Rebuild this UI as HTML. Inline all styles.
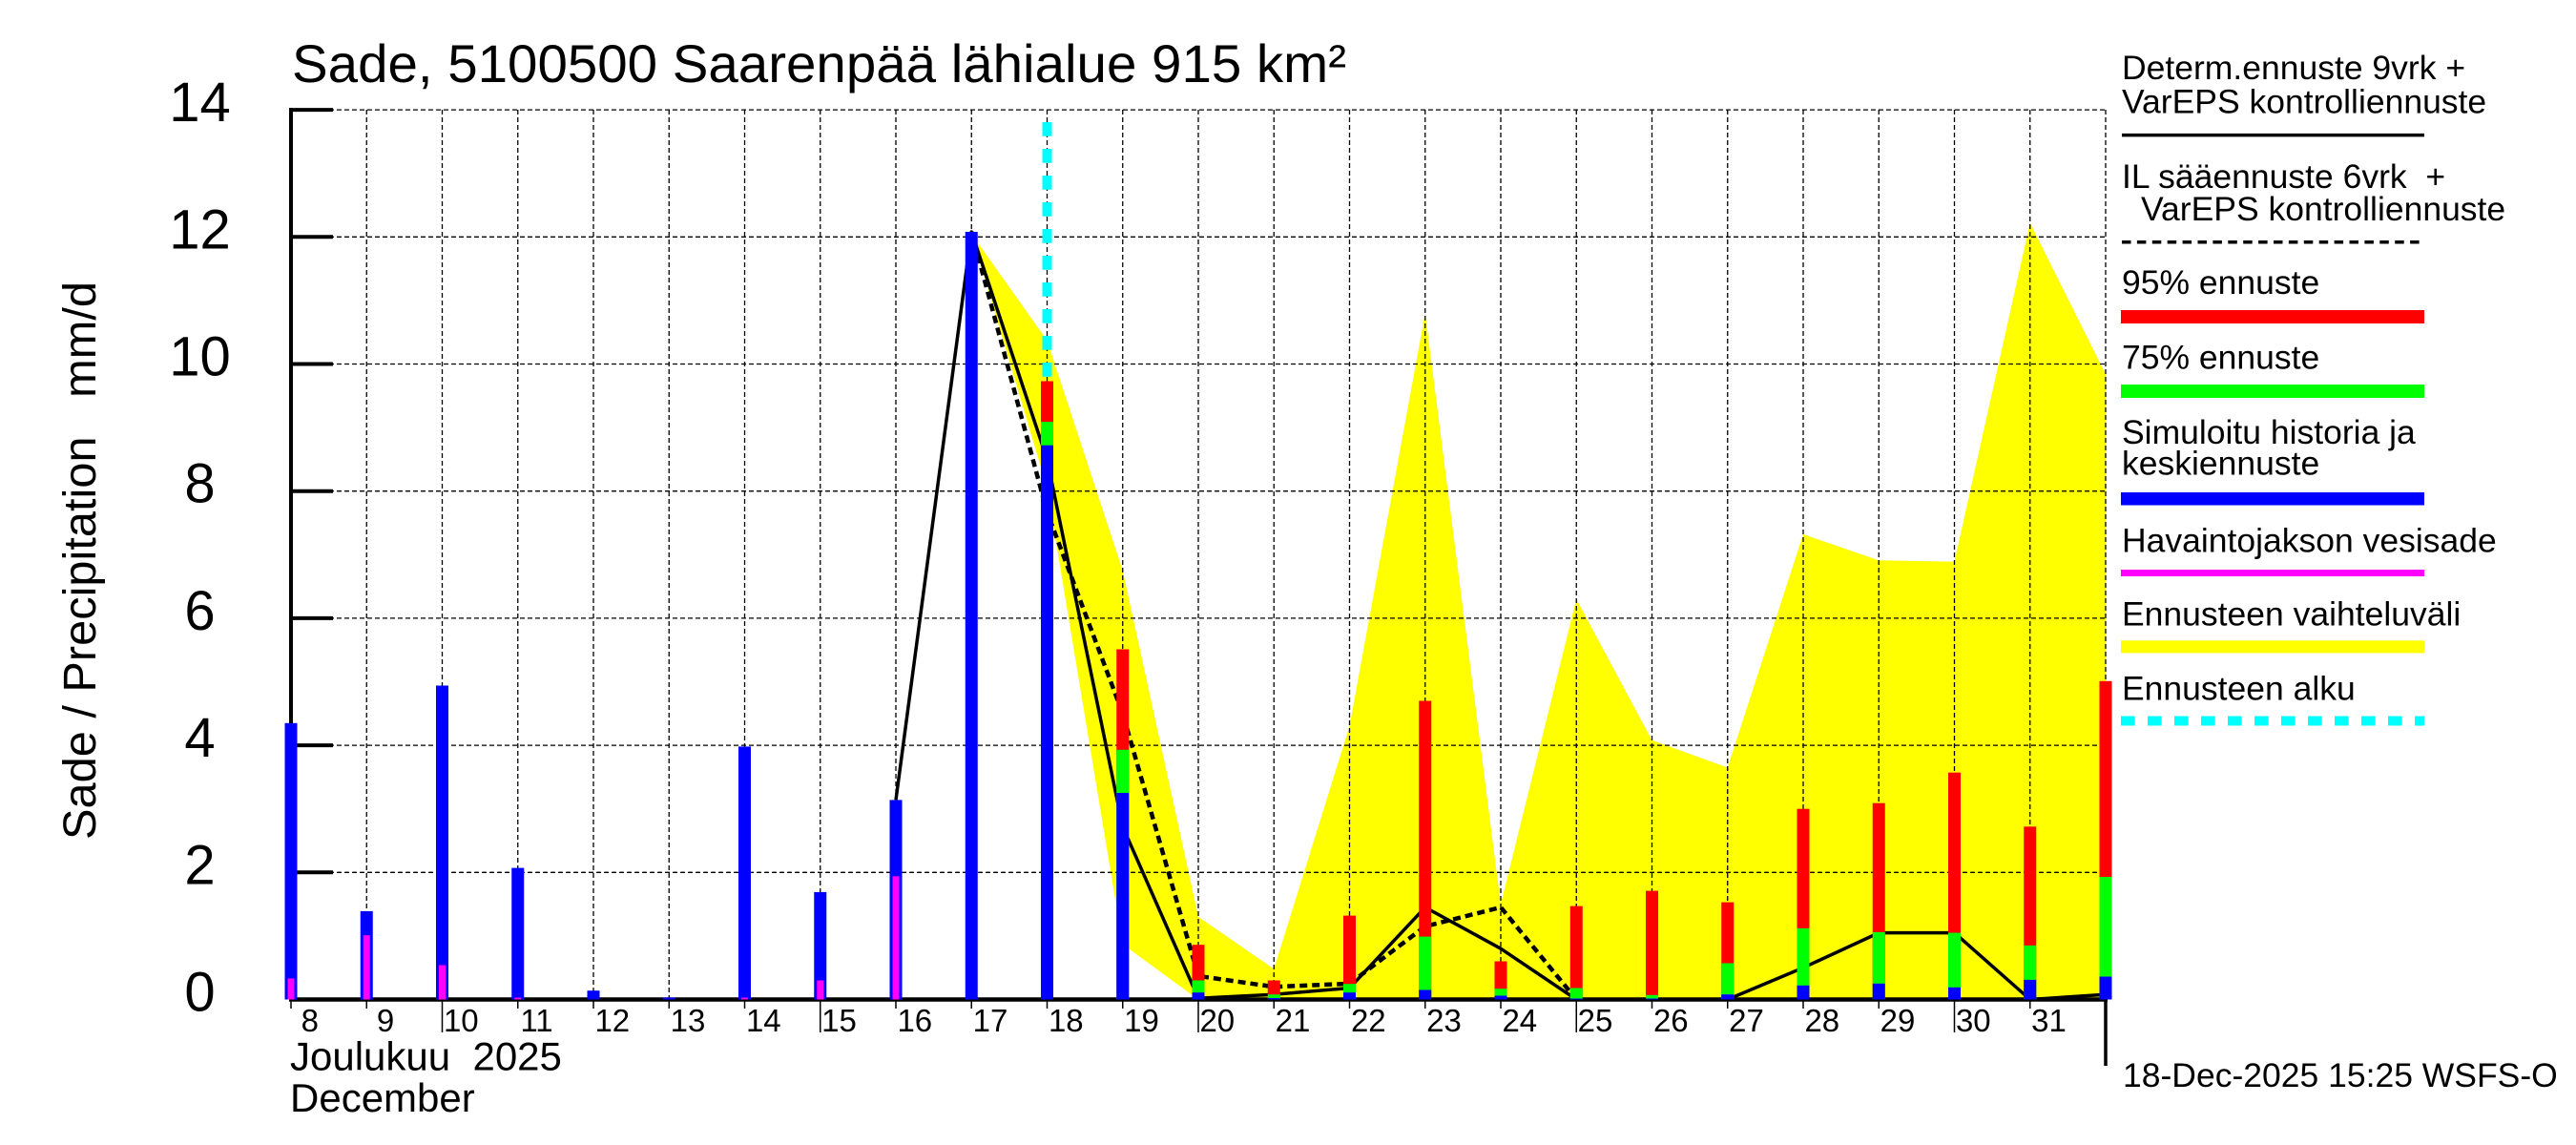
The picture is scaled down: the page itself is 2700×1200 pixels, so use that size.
<!DOCTYPE html>
<html><head><meta charset="utf-8"><style>
html,body{margin:0;padding:0;background:#fff;}
svg{display:block;}
text{font-family:"Liberation Sans",Arial,Helvetica,sans-serif;fill:#000;}
</style></head><body>
<svg width="2700" height="1200" viewBox="0 0 2700 1200" xmlns="http://www.w3.org/2000/svg">
<rect x="0" y="0" width="2700" height="1200" fill="#fff"/>

<!-- yellow forecast range -->
<polygon fill="#ffff00" points="1018.25,245 1097.5,356.9 1176.75,597.9 1256,960.9 1335.25,1015.5 1414.5,761.1 1493.75,328.2 1573,947.6 1652.25,627.9 1731.5,775.8 1810.75,804.4 1890,560 1969.25,587.3 2048.5,588.6 2127.75,233.6 2207,392.2 2207,1047.5 1256,1047.5 1176.75,989.6 1097.5,511.4"/>

<!-- grid -->
<g stroke="#000" stroke-width="1.3" stroke-dasharray="5 3" fill="none">
<line x1="305" y1="115.1" x2="2207" y2="115.1"/>
<line x1="305" y1="248.3" x2="2207" y2="248.3"/>
<line x1="305" y1="381.5" x2="2207" y2="381.5"/>
<line x1="305" y1="514.7" x2="2207" y2="514.7"/>
<line x1="305" y1="647.9" x2="2207" y2="647.9"/>
<line x1="305" y1="781.1" x2="2207" y2="781.1"/>
<line x1="305" y1="914.3" x2="2207" y2="914.3"/>
<line x1="384.25" y1="115" x2="384.25" y2="1047"/>
<line x1="463.5" y1="115" x2="463.5" y2="1047"/>
<line x1="542.75" y1="115" x2="542.75" y2="1047"/>
<line x1="622" y1="115" x2="622" y2="1047"/>
<line x1="701.25" y1="115" x2="701.25" y2="1047"/>
<line x1="780.5" y1="115" x2="780.5" y2="1047"/>
<line x1="859.75" y1="115" x2="859.75" y2="1047"/>
<line x1="939" y1="115" x2="939" y2="1047"/>
<line x1="1018.25" y1="115" x2="1018.25" y2="1047"/>
<line x1="1097.5" y1="115" x2="1097.5" y2="1047"/>
<line x1="1176.75" y1="115" x2="1176.75" y2="1047"/>
<line x1="1256" y1="115" x2="1256" y2="1047"/>
<line x1="1335.25" y1="115" x2="1335.25" y2="1047"/>
<line x1="1414.5" y1="115" x2="1414.5" y2="1047"/>
<line x1="1493.75" y1="115" x2="1493.75" y2="1047"/>
<line x1="1573" y1="115" x2="1573" y2="1047"/>
<line x1="1652.25" y1="115" x2="1652.25" y2="1047"/>
<line x1="1731.5" y1="115" x2="1731.5" y2="1047"/>
<line x1="1810.75" y1="115" x2="1810.75" y2="1047"/>
<line x1="1890" y1="115" x2="1890" y2="1047"/>
<line x1="1969.25" y1="115" x2="1969.25" y2="1047"/>
<line x1="2048.5" y1="115" x2="2048.5" y2="1047"/>
<line x1="2127.75" y1="115" x2="2127.75" y2="1047"/>
<line x1="2207" y1="115" x2="2207" y2="1047"/>
</g>

<!-- axes -->
<g stroke="#000" fill="none">
<line x1="305" y1="113" x2="305" y2="1049.5" stroke-width="4"/>
<line x1="303" y1="1047.5" x2="2209" y2="1047.5" stroke-width="4.5"/>
<g stroke-width="4">
<line x1="305" y1="115.1" x2="349" y2="115.1"/>
<line x1="305" y1="248.3" x2="349" y2="248.3"/>
<line x1="305" y1="381.5" x2="349" y2="381.5"/>
<line x1="305" y1="514.7" x2="349" y2="514.7"/>
<line x1="305" y1="647.9" x2="349" y2="647.9"/>
<line x1="305" y1="781.1" x2="349" y2="781.1"/>
<line x1="305" y1="914.3" x2="349" y2="914.3"/>
</g>
<g stroke-width="1.5">
<line x1="305" y1="1047" x2="305" y2="1057"/>
<line x1="384.25" y1="1047" x2="384.25" y2="1057"/>
<line x1="463.5" y1="1047" x2="463.5" y2="1082"/>
<line x1="542.75" y1="1047" x2="542.75" y2="1057"/>
<line x1="622" y1="1047" x2="622" y2="1057"/>
<line x1="701.25" y1="1047" x2="701.25" y2="1057"/>
<line x1="780.5" y1="1047" x2="780.5" y2="1057"/>
<line x1="859.75" y1="1047" x2="859.75" y2="1082"/>
<line x1="939" y1="1047" x2="939" y2="1057"/>
<line x1="1018.25" y1="1047" x2="1018.25" y2="1057"/>
<line x1="1097.5" y1="1047" x2="1097.5" y2="1057"/>
<line x1="1176.75" y1="1047" x2="1176.75" y2="1057"/>
<line x1="1256" y1="1047" x2="1256" y2="1082"/>
<line x1="1335.25" y1="1047" x2="1335.25" y2="1057"/>
<line x1="1414.5" y1="1047" x2="1414.5" y2="1057"/>
<line x1="1493.75" y1="1047" x2="1493.75" y2="1057"/>
<line x1="1573" y1="1047" x2="1573" y2="1057"/>
<line x1="1652.25" y1="1047" x2="1652.25" y2="1082"/>
<line x1="1731.5" y1="1047" x2="1731.5" y2="1057"/>
<line x1="1810.75" y1="1047" x2="1810.75" y2="1057"/>
<line x1="1890" y1="1047" x2="1890" y2="1057"/>
<line x1="1969.25" y1="1047" x2="1969.25" y2="1057"/>
<line x1="2048.5" y1="1047" x2="2048.5" y2="1082"/>
<line x1="2127.75" y1="1047" x2="2127.75" y2="1057"/>
</g>
<line x1="2207" y1="1046" x2="2207" y2="1117" stroke-width="3.5"/>
</g>

<!-- lines -->
<polyline fill="none" stroke="#000" stroke-width="3.5" stroke-linejoin="round" points="939,838.4 1018.25,243 1097.5,481.4 1176.75,866.4 1256,1046.2 1335.25,1042.2 1414.5,1035.5 1493.75,950.9 1573,994.2 1652.25,1047.5 1731.5,1047.5 1810.75,1047.5 1890,1014.2 1969.25,977.6 2048.5,977.6 2127.75,1047.5 2207,1042.2"/>
<polyline fill="none" stroke="#000" stroke-width="4.5" stroke-dasharray="8 5" points="1018.25,243 1097.5,536.7 1176.75,747.8 1256,1022.9 1335.25,1034.2 1414.5,1030.9 1493.75,970.9 1573,950.9 1652.25,1047.5"/>

<!-- history bars -->
<g fill="#0000ff">
<rect x="298.5" y="757.8" width="13" height="289.7"/>
<rect x="377.75" y="954.9" width="13" height="92.6"/>
<rect x="457" y="718.5" width="13" height="329"/>
<rect x="536.25" y="909.6" width="13" height="137.9"/>
<rect x="615.5" y="1038.2" width="13" height="9.3"/>
<rect x="694.75" y="1045.5" width="13" height="2"/>
<rect x="774" y="782.4" width="13" height="265.1"/>
<rect x="853.25" y="934.9" width="13" height="112.6"/>
<rect x="932.5" y="838.4" width="13" height="209.1"/>
<rect x="1011.75" y="243" width="13" height="804.5"/>
</g>
<g fill="#ff00ff">
<rect x="301.5" y="1025.5" width="7" height="22"/>
<rect x="380.75" y="980.2" width="7" height="67.3"/>
<rect x="460" y="1011.5" width="7" height="36"/>
<rect x="539.25" y="1045.5" width="7" height="2"/>
<rect x="777" y="1045.5" width="7" height="2"/>
<rect x="856.25" y="1027.5" width="7" height="20"/>
<rect x="935.5" y="918.3" width="7" height="129.2"/>
</g>

<!-- forecast bars -->
<g fill="#ff0000">
<rect x="1091" y="399.5" width="13" height="648"/>
<rect x="1170.25" y="680.5" width="13" height="367"/>
<rect x="1249.5" y="990.2" width="13" height="57.3"/>
<rect x="1328.75" y="1027.5" width="13" height="20"/>
<rect x="1408" y="959.6" width="13" height="87.9"/>
<rect x="1487.25" y="734.5" width="13" height="313"/>
<rect x="1566.5" y="1007.5" width="13" height="40"/>
<rect x="1645.75" y="949.6" width="13" height="97.9"/>
<rect x="1725" y="933.6" width="13" height="113.9"/>
<rect x="1804.25" y="945.6" width="13" height="101.9"/>
<rect x="1883.5" y="847.7" width="13" height="199.8"/>
<rect x="1962.75" y="841.7" width="13" height="205.8"/>
<rect x="2042" y="809.7" width="13" height="237.8"/>
<rect x="2121.25" y="866.3" width="13" height="181.2"/>
<rect x="2200.5" y="713.8" width="13" height="333.7"/>
</g>
<g fill="#00ff00">
<rect x="1091" y="442.1" width="13" height="605.4"/>
<rect x="1170.25" y="785.8" width="13" height="261.7"/>
<rect x="1249.5" y="1027.5" width="13" height="20"/>
<rect x="1328.75" y="1042.2" width="13" height="5.3"/>
<rect x="1408" y="1031.2" width="13" height="16.3"/>
<rect x="1487.25" y="981.6" width="13" height="65.9"/>
<rect x="1566.5" y="1036.2" width="13" height="11.3"/>
<rect x="1645.75" y="1035.5" width="13" height="12"/>
<rect x="1725" y="1042.8" width="13" height="4.7"/>
<rect x="1804.25" y="1009.5" width="13" height="38"/>
<rect x="1883.5" y="972.9" width="13" height="74.6"/>
<rect x="1962.75" y="976.9" width="13" height="70.6"/>
<rect x="2042" y="977.6" width="13" height="69.9"/>
<rect x="2121.25" y="990.9" width="13" height="56.6"/>
<rect x="2200.5" y="919" width="13" height="128.5"/>
</g>
<g fill="#0000ff">
<rect x="1091" y="466.7" width="13" height="580.8"/>
<rect x="1170.25" y="831" width="13" height="216.5"/>
<rect x="1249.5" y="1040.2" width="13" height="7.3"/>
<rect x="1328.75" y="1046" width="13" height="1.5"/>
<rect x="1408" y="1040.2" width="13" height="7.3"/>
<rect x="1487.25" y="1037.5" width="13" height="10"/>
<rect x="1566.5" y="1043.5" width="13" height="4"/>
<rect x="1645.75" y="1046.5" width="13" height="1"/>
<rect x="1725" y="1046.5" width="13" height="1"/>
<rect x="1804.25" y="1042.2" width="13" height="5.3"/>
<rect x="1883.5" y="1032.8" width="13" height="14.7"/>
<rect x="1962.75" y="1030.8" width="13" height="16.7"/>
<rect x="2042" y="1034.8" width="13" height="12.7"/>
<rect x="2121.25" y="1026.9" width="13" height="20.6"/>
<rect x="2200.5" y="1023.5" width="13" height="24"/>
</g>

<!-- forecast start -->
<line x1="1097.5" y1="128" x2="1097.5" y2="397" stroke="#00ffff" stroke-width="10" stroke-dasharray="14.7 13.3"/>

<!-- title -->
<text x="306" y="86" font-size="56" textLength="1105" lengthAdjust="spacingAndGlyphs">Sade, 5100500 Saarenpää lähialue 915 km²</text>

<!-- y label -->
<text transform="translate(100,587.5) rotate(-90)" text-anchor="middle" font-size="48" textLength="585" lengthAdjust="spacingAndGlyphs">Sade / Precipitation&#160;&#160;&#160;mm/d</text>

<!-- y tick labels -->
<g font-size="58" text-anchor="middle">
<text x="209.5" y="127.1">14</text>
<text x="209.5" y="260.3">12</text>
<text x="209.5" y="393.5">10</text>
<text x="209.5" y="526.7">8</text>
<text x="209.5" y="659.9">6</text>
<text x="209.5" y="793.1">4</text>
<text x="209.5" y="926.3">2</text>
<text x="209.5" y="1059.5">0</text>
</g>

<!-- x tick labels -->
<g font-size="33" text-anchor="middle">
<text x="324.8" y="1081">8</text>
<text x="404" y="1081">9</text>
<text x="483.3" y="1081">10</text>
<text x="562.5" y="1081">11</text>
<text x="641.8" y="1081">12</text>
<text x="721" y="1081">13</text>
<text x="800.3" y="1081">14</text>
<text x="879.5" y="1081">15</text>
<text x="958.8" y="1081">16</text>
<text x="1038" y="1081">17</text>
<text x="1117.3" y="1081">18</text>
<text x="1196.5" y="1081">19</text>
<text x="1275.8" y="1081">20</text>
<text x="1355" y="1081">21</text>
<text x="1434.3" y="1081">22</text>
<text x="1513.5" y="1081">23</text>
<text x="1592.8" y="1081">24</text>
<text x="1672" y="1081">25</text>
<text x="1751.3" y="1081">26</text>
<text x="1830.5" y="1081">27</text>
<text x="1909.8" y="1081">28</text>
<text x="1989" y="1081">29</text>
<text x="2068.3" y="1081">30</text>
<text x="2147.5" y="1081">31</text>
</g>
<text x="304" y="1121.7" font-size="42">Joulukuu&#160;&#160;2025</text>
<text x="304" y="1165" font-size="42">December</text>

<!-- legend -->
<g font-size="35.5">
<text x="2224" y="83">Determ.ennuste 9vrk +</text>
<text x="2224" y="118.6">VarEPS kontrolliennuste</text>
<text x="2224" y="197">IL sääennuste 6vrk&#160;&#160;+</text>
<text x="2244" y="230.8">VarEPS kontrolliennuste</text>
<text x="2224" y="308">95% ennuste</text>
<text x="2224" y="386.5">75% ennuste</text>
<text x="2224" y="465">Simuloitu historia ja</text>
<text x="2224" y="497.5">keskiennuste</text>
<text x="2224" y="578.7">Havaintojakson vesisade</text>
<text x="2224" y="655.7">Ennusteen vaihteluväli</text>
<text x="2224" y="733.6">Ennusteen alku</text>
<text x="2225" y="1139">18-Dec-2025 15:25 WSFS-O</text>
</g>
<line x1="2224" y1="141.6" x2="2541" y2="141.6" stroke="#000" stroke-width="3.5"/>
<line x1="2224" y1="253.7" x2="2541" y2="253.7" stroke="#000" stroke-width="3.5" stroke-dasharray="9.5 6.4"/>
<rect x="2223" y="325" width="318" height="14" fill="#ff0000"/>
<rect x="2223" y="403" width="318" height="14" fill="#00ff00"/>
<rect x="2223" y="516" width="318" height="13.5" fill="#0000ff"/>
<rect x="2223" y="597" width="318" height="7" fill="#ff00ff"/>
<rect x="2223" y="671.3" width="318" height="13.1" fill="#ffff00"/>
<line x1="2223" y1="755.5" x2="2541" y2="755.5" stroke="#00ffff" stroke-width="10" stroke-dasharray="14.7 13.3"/>
</svg>
</body></html>
